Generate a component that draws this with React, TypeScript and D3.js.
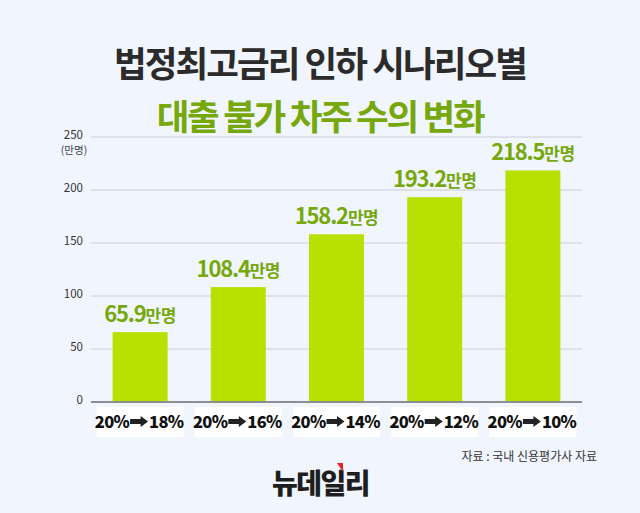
import React from "react";
import * as d3 from "d3";

const categories = ["20%→18%", "20%→16%", "20%→14%", "20%→12%", "20%→10%"];
const fromRates = ["20%", "20%", "20%", "20%", "20%"];
const toRates = ["18%", "16%", "14%", "12%", "10%"];
const values = [65.9, 108.4, 158.2, 193.2, 218.5];
const yTicks = [0, 50, 100, 150, 200, 250];

const W = 640;
const H = 513;
const FONT = "'Noto Sans CJK KR', 'Noto Sans', sans-serif";

export default function App() {
  const x = d3.scaleBand<string>().domain(categories).range([91, 582]).paddingInner(0.44).paddingOuter(0.22);
  const y = d3.scaleLinear().domain([0, 250]).range([402, 137]);
  const bw = x.bandwidth();

  return (
    <svg width={W} height={H} style={{ display: "block", position: "absolute", left: 0, top: 0 }} fontFamily={FONT}>
      <rect x={0} y={0} width={W} height={H} fill="#f1f5fd" />
      <text x={320} y={77} textAnchor="middle" fontSize={35.5} fontWeight={700} fill="#2b2b2b" letterSpacing={-1.9}>
        법정최고금리 인하 시나리오별
      </text>
      <text x={320} y={130} textAnchor="middle" fontSize={35.5} fontWeight={700} fill="#76a80c" letterSpacing={-2.3}>
        대출 불가 차주 수의 변화
      </text>

      {yTicks.map((t) => (
        <g key={t}>
          <line x1={91} x2={582} y1={y(t)} y2={y(t)} stroke={t === 0 ? "#6b6b6b" : "#c9ccd4"} strokeWidth={t === 0 ? 1.5 : 1} />
          <text x={83} y={y(t) + 1.5} textAnchor="end" fontSize={11.5} fill="#333">
            {t}
          </text>
        </g>
      ))}
      <text x={74} y={154} textAnchor="middle" fontSize={10.5} fill="#444">
        (만명)
      </text>

      {categories.map((c, i) => {
        const bx = x(c) as number;
        const cx = bx + bw / 2;
        const v = values[i];
        return (
          <g key={c}>
            <rect x={bx} y={y(v)} width={bw} height={y(0) - y(v) - 1} fill="#b8e000" />
            <text x={cx} y={y(v) - 10} textAnchor="middle" fontWeight={700} fill="#76a80c" letterSpacing={-1.2}>
              <tspan fontSize={22}>{v.toFixed(1)}</tspan>
              <tspan fontSize={17} letterSpacing={-0.5}>만명</tspan>
            </text>
            <rect x={cx - 43.5} y={407} width={87} height={30} fill="#ffffff" />
            <text x={cx - 11} y={428} textAnchor="end" fontSize={16.5} fontWeight={900} fill="#111" letterSpacing={-0.7}>
              {fromRates[i]}
            </text>
            <path
              d={`M${cx - 10},${421.5 - 2.6}h10.5v-3l7.5,5.6l-7.5,5.6v-3h-10.5z`}
              fill="#222"
            />
            <text x={cx + 9} y={428} textAnchor="start" fontSize={16.5} fontWeight={900} fill="#111" letterSpacing={-0.7}>
              {toRates[i]}
            </text>
          </g>
        );
      })}

      <text x={597} y={461} textAnchor="end" fontSize={12} fill="#333">
        자료 : 국내 신용평가사 자료
      </text>
      <text x={272} y={494} fontSize={28} fontWeight={900} fill="#1e1e1e" letterSpacing={-1.5}>
        뉴데일리
      </text>
      <polygon points="337,463 343,463 343,472" fill="#e8262a" />
    </svg>
  );
}
